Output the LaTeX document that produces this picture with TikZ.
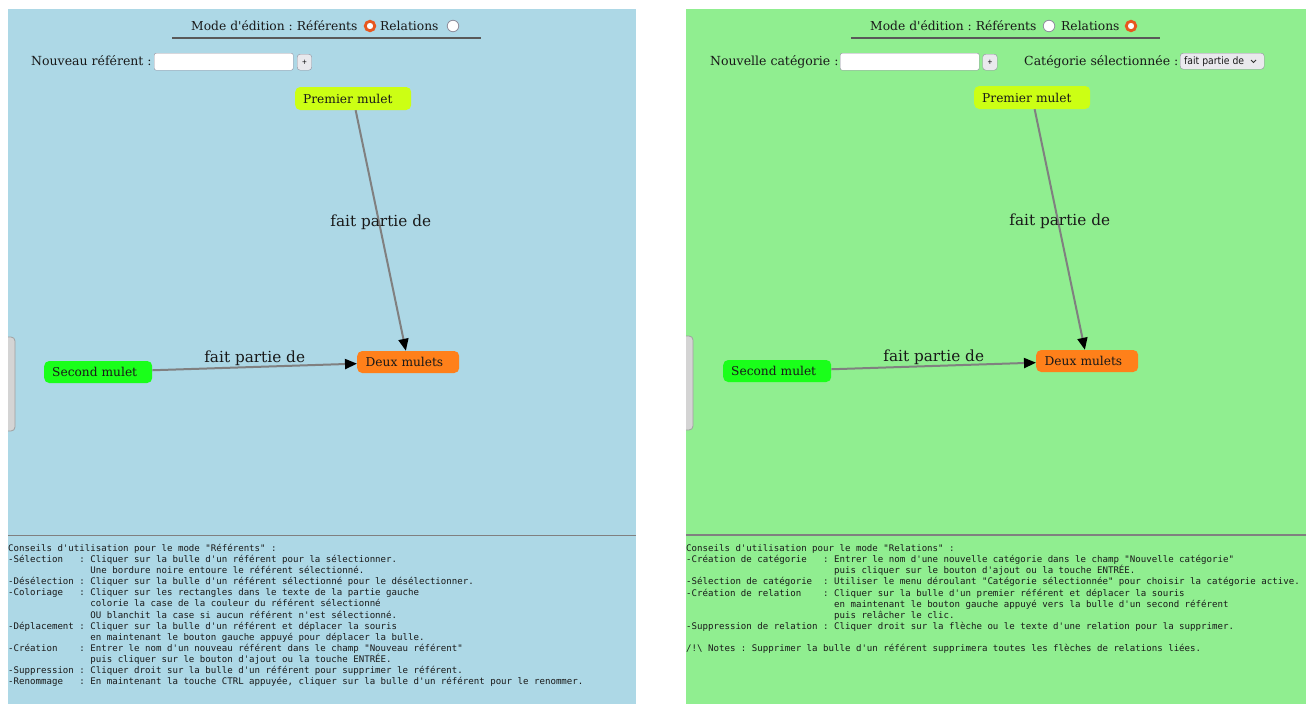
\documentclass[tikz,border=0pt]{standalone}
\usepackage{fontspec}
\setmainfont{DejaVu Serif}
\setmonofont{DejaVu Sans Mono}
\newfontfamily\serifui{DejaVu Serif}
\newfontfamily\uisans{DejaVu Sans Condensed}
\usetikzlibrary{arrows.meta}
\frenchspacing
\definecolor{panelblue}{HTML}{ADD8E6}
\definecolor{panelgreen}{HTML}{90EE90}
\definecolor{bubyellow}{HTML}{CCFF14}
\definecolor{bubgreen}{HTML}{1AFF1A}
\definecolor{buborange}{HTML}{FF801A}
\definecolor{edgegray}{HTML}{808080}
\definecolor{ctrlborder}{HTML}{8F8F9D}
\definecolor{btnfill}{HTML}{E9E9ED}
\definecolor{radioorange}{HTML}{E8571E}
\definecolor{tabfill}{HTML}{D4D4D4}
\definecolor{tabborder}{HTML}{A0A0A0}
\newcommand\pad[1]{\hspace*{\dimexpr 0.602em*#1\relax}}
\tikzset{
  ui/.style={font=\serifui\frenchspacing\fontsize{12.5}{15}\selectfont, text=black!90, inner sep=0pt},
  head/.style={font=\serifui\frenchspacing\fontsize{12.3}{15}\selectfont, text=black!90, inner sep=0pt, anchor=base west},
  bubble/.style={rounded corners=5pt, inner xsep=8pt, inner ysep=0pt, align=left,
    font=\serifui\fontsize{12.2}{14}\selectfont, anchor=west, text=black!90},
  lab/.style={font=\serifui\fontsize{15.3}{18}\selectfont, anchor=base, yshift=4.5pt, inner sep=0pt, text=black!90},
  edge/.style={draw=edgegray, line width=2pt, -{Triangle[length=12pt,width=10pt,color=black]}},
  field/.style={draw=ctrlborder, fill=white, rounded corners=2pt, minimum width=139pt,
    minimum height=17pt, inner sep=0pt, anchor=north west},
  btn/.style={draw=ctrlborder, fill=btnfill, rounded corners=3pt, minimum width=14.5pt,
    minimum height=16pt, inner sep=0pt, anchor=north west, font=\uisans\fontsize{7}{8}\selectfont},
  radioon/.style={circle, draw=radioorange, line width=2.8pt, fill=white, minimum size=9.5pt, inner sep=0pt},
  radiooff/.style={circle, draw=ctrlborder, line width=0.8pt, fill=white, minimum size=11.5pt, inner sep=0pt},
  mono/.style={font=\ttfamily\fontsize{9.1}{11.1}\selectfont, align=left, inner sep=0pt, anchor=north west, text=black!90},
  headrule/.style={draw=black!65, line width=1.3pt},
  divider/.style={draw=black!50, line width=1.5pt},
  tabshape/.style={fill=tabfill, draw=tabborder, line width=0.8pt, rounded corners=4pt}
}
\begin{document}
\begin{tikzpicture}[x=1pt, y=-1pt]
\useasboundingbox (0,0) rectangle (1306,704);
\fill[white] (0,0) rectangle (1306,704);
% panels
\fill[panelblue] (8,9) rectangle (636,704);
\fill[panelgreen] (686,9) rectangle (1306,704);
% side tabs
\begin{scope}
  \clip (8,0) rectangle (30,704);
  \draw[tabshape] (2,337) rectangle (15,431);
\end{scope}
\begin{scope}
  \clip (686,0) rectangle (710,704);
  \draw[tabshape] (680,336) rectangle (693,430);
\end{scope}
% dividers
\draw[divider] (8,535.5) -- (636,535.5);
\draw[divider] (686,535) -- (1306,535);

% ===== LEFT HEADER =====
\node[head] (hL) at (191,30.5) {Mode d'édition : Référents};
\node[radioon] (rL1) at (370,26) {};
\node[head] (hL2) at (380,30.5) {Relations};
\node[radiooff] (rL2) at (453,26) {};
\draw[headrule] (172,38) -- (481,38);
\node[ui, anchor=base west] (nrL) at (31,65.5) {Nouveau référent :};
\node[field] (fL) at (154,53) {};
\node[btn] (bL) at (297,54) {+};

% ===== RIGHT HEADER =====
\node[head] (hR) at (870,30.5) {Mode d'édition : Référents};
\node[radiooff] (rR1) at (1049,26) {};
\node[head] (hR2) at (1061,30.5) {Relations};
\node[radioon] (rR2) at (1131,26) {};
\draw[headrule] (851,38) -- (1160,38);
\node[ui, anchor=base west] (ncR) at (710,65.5) {Nouvelle catégorie :};
\node[field] (fR) at (840,53) {};
\node[btn] (bR) at (982.5,54) {+};
\node[ui, anchor=base west] (csR) at (1024,65.5) {Catégorie sélectionnée :};
\node[draw=ctrlborder, fill=btnfill, rounded corners=3pt, minimum width=84pt, minimum height=16pt,
      inner sep=0pt, anchor=north west] (selR) at (1180,53) {};
\node[anchor=west, inner sep=0pt, font=\uisans\fontsize{10.3}{12}\selectfont, text=black!90] (selT) at (1184,61.5) {fait partie de};
\draw[black!80, line width=0.8pt] (1251,60) -- (1253.5,62.5) -- (1256,60);

% ===== LEFT GRAPH =====
\node[bubble, fill=bubyellow, text width=100pt, minimum height=23pt] (premL) at (295,98.5) {Premier mulet};
\node[bubble, fill=bubgreen, text width=92pt, minimum height=22pt] (secL) at (44,372) {Second mulet};
\node[bubble, fill=buborange, text width=85pt, minimum height=22pt, inner xsep=8.5pt] (deuxL) at (357,362) {Deux mulets};
\draw[edge] (premL) -- node[lab] (l1L) {fait partie de} (deuxL);
\draw[edge] (secL) -- node[lab] (l2L) {fait partie de} (deuxL);

% ===== RIGHT GRAPH =====
\node[bubble, fill=bubyellow, text width=100pt, minimum height=23pt] (premR) at (974,97.5) {Premier mulet};
\node[bubble, fill=bubgreen, text width=92pt, minimum height=22pt] (secR) at (723,371) {Second mulet};
\node[bubble, fill=buborange, text width=85pt, minimum height=22pt, inner xsep=8.5pt] (deuxR) at (1036,361) {Deux mulets};
\draw[edge] (premR) -- node[lab] (l1R) {fait partie de} (deuxR);
\draw[edge] (secR) -- node[lab] (l2R) {fait partie de} (deuxR);

% ===== LEFT TIPS =====
\node[mono] (tipsL) at (8,544) {%
Conseils d'utilisation pour le mode "Référents" :\\
-Sélection\pad{3}: Cliquer sur la bulle d'un référent pour la sélectionner.\\
\pad{15}Une bordure noire entoure le référent sélectionné.\\
-Désélection : Cliquer sur la bulle d'un référent sélectionné pour le désélectionner.\\
-Coloriage\pad{3}: Cliquer sur les rectangles dans le texte de la partie gauche\\
\pad{15}colorie la case de la couleur du référent sélectionné\\
\pad{15}OU blanchit la case si aucun référent n'est sélectionné.\\
-Déplacement : Cliquer sur la bulle d'un référent et déplacer la souris\\
\pad{15}en maintenant le bouton gauche appuyé pour déplacer la bulle.\\
-Création\pad{4}: Entrer le nom d'un nouveau référent dans le champ "Nouveau référent"\\
\pad{15}puis cliquer sur le bouton d'ajout ou la touche ENTRÉE.\\
-Suppression : Cliquer droit sur la bulle d'un référent pour supprimer le référent.\\
-Renommage\pad{3}: En maintenant la touche CTRL appuyée, cliquer sur la bulle d'un référent pour le renommer.};

% ===== RIGHT TIPS =====
\node[mono] (tipsR) at (686,544.5) {%
Conseils d'utilisation pour le mode "Relations" :\\
-Création de catégorie\pad{3}: Entrer le nom d'une nouvelle catégorie dans le champ "Nouvelle catégorie"\\
\pad{27}puis cliquer sur le bouton d'ajout ou la touche ENTRÉE.\\
-Sélection de catégorie\pad{2}: Utiliser le menu déroulant "Catégorie sélectionnée" pour choisir la catégorie active.\\
-Création de relation\pad{4}: Cliquer sur la bulle d'un premier référent et déplacer la souris\\
\pad{27}en maintenant le bouton gauche appuyé vers la bulle d'un second référent\\
\pad{27}puis relâcher le clic.\\
-Suppression de relation : Cliquer droit sur la flèche ou le texte d'une relation pour la supprimer.\\[11.1pt]
/!\textbackslash{} Notes : Supprimer la bulle d'un référent supprimera toutes les flèches de relations liées.};
\end{tikzpicture}
\end{document}
